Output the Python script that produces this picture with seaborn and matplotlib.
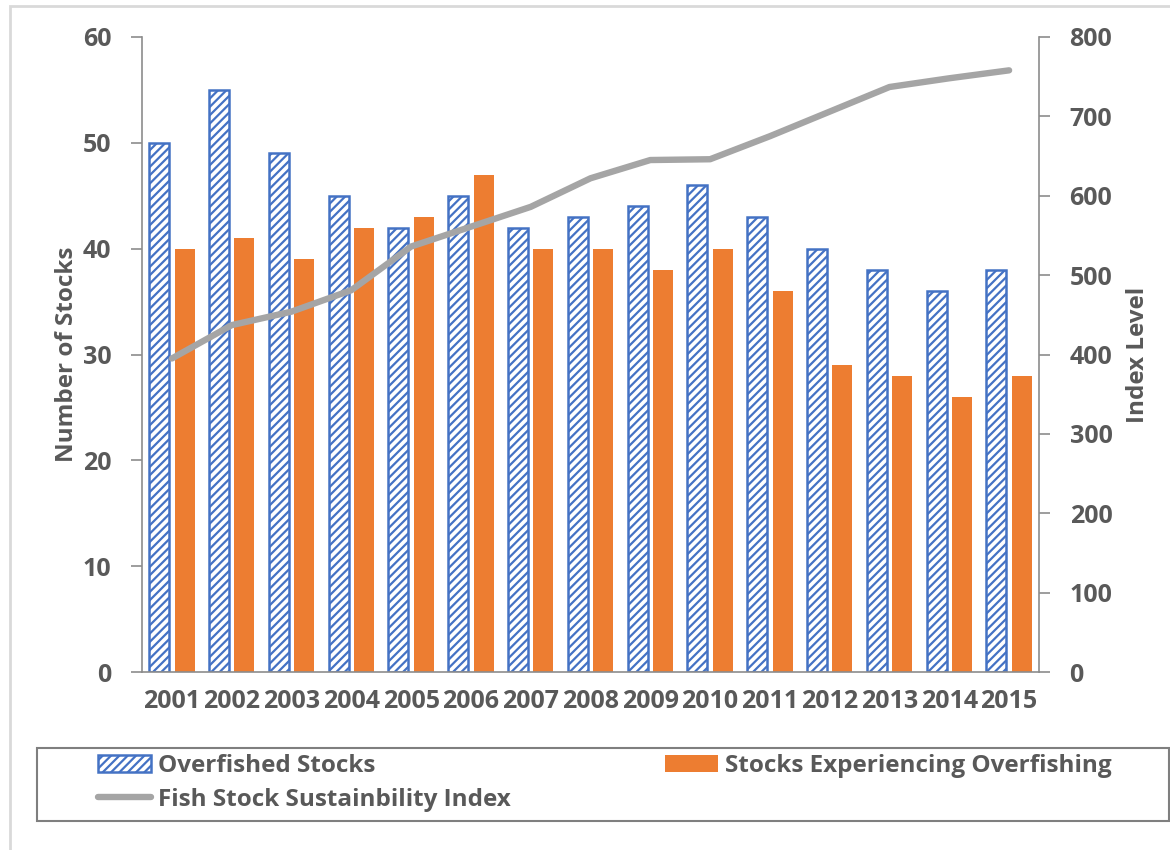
import matplotlib
matplotlib.use("Agg")
import matplotlib.pyplot as plt
import seaborn as sns
import numpy as np
import pandas as pd
from matplotlib.patches import Patch, Rectangle
from matplotlib.lines import Line2D

years = ["2001", "2002", "2003", "2004", "2005", "2006", "2007", "2008",
         "2009", "2010", "2011", "2012", "2013", "2014", "2015"]
overfished = [50, 55, 49, 45, 42, 45, 42, 43, 44, 46, 43, 40, 38, 36, 38]
overfishing = [40, 41, 39, 42, 43, 47, 40, 40, 38, 40, 36, 29, 28, 26, 28]
fssi = [395, 437, 454, 481, 536, 561, 586, 622, 645, 646, 675, 706, 737, 748, 758]

bar_names = ["Overfished Stocks", "Stocks Experiencing Overfishing"]
line_name = "Fish Stock Sustainbility Index"

BLUE = "#4472C4"
ORANGE = "#ED7D31"
GREY = "#A5A5A5"
TEXT = "#595959"
AXIS = "#8C8C8C"

sns.set_style("white")
plt.rcParams["font.family"] = ["Open Sans", "DejaVu Sans"]
plt.rcParams["font.weight"] = "bold"
plt.rcParams["hatch.linewidth"] = 1.6

df = pd.DataFrame({
    "Year": years * 2,
    "Stocks": overfished + overfishing,
    "Series": [bar_names[0]] * len(years) + [bar_names[1]] * len(years),
})

fig = plt.figure(figsize=(11.7, 8.5), dpi=100)
ax = fig.add_axes([142 / 1170, 1 - 672 / 850, (1039 - 142) / 1170, (672 - 37) / 850])

sns.barplot(data=df, x="Year", y="Stocks", hue="Series", hue_order=bar_names,
            palette=[BLUE, ORANGE], width=0.85, gap=0.22, legend=False,
            ax=ax, saturation=1)

for bar in ax.containers[0]:
    bar.set_facecolor("white")
    bar.set_edgecolor(BLUE)
    bar.set_hatch("////")
    bar.set_linewidth(1.8)
for bar in ax.containers[1]:
    bar.set_edgecolor("none")

ax.set_ylim(0, 60)
ax.set_yticks(range(0, 61, 10))
ax.set_xlim(-0.5, len(years) - 0.5)
ax.set_xlabel("")
ax.set_ylabel("Number of Stocks", fontsize=17.5, color=TEXT, fontweight="bold", labelpad=3)

ax2 = ax.twinx()
sns.lineplot(x=np.arange(len(years)), y=fssi, color=GREY, linewidth=4.6, ax=ax2,
             solid_capstyle="round")
ax2.set_ylim(0, 800)
ax2.set_yticks(range(0, 801, 100))
ax2.set_ylabel("Index Level", fontsize=17.5, color=TEXT, fontweight="bold", labelpad=10)

for a in (ax, ax2):
    a.spines["top"].set_visible(False)
    for s in ("left", "right", "bottom"):
        a.spines[s].set_color(AXIS)
        a.spines[s].set_linewidth(1.2)
    a.tick_params(axis="y", length=8, width=1.2, color=AXIS, labelsize=18,
                  labelcolor=TEXT, pad=14)
    a.tick_params(axis="x", length=0, labelsize=18, labelcolor=TEXT, pad=12)
    a.grid(False)
ax.spines["right"].set_visible(False)
ax2.spines["left"].set_visible(False)
ax2.spines["bottom"].set_visible(False)
for lbl in ax.get_xticklabels() + ax.get_yticklabels() + ax2.get_yticklabels():
    lbl.set_fontweight("bold")

h_over = Patch(facecolor="white", edgecolor=BLUE, hatch="////", linewidth=1.8,
               label=bar_names[0])
h_fish = Patch(facecolor=ORANGE, edgecolor="none", label=bar_names[1])
h_line = Line2D([], [], color=GREY, linewidth=4.6, label=line_name)

leg_kw = dict(frameon=False, fontsize=17.5, handlelength=2.2, handleheight=0.75,
              handletextpad=0.25, borderpad=0, borderaxespad=0, labelspacing=0.4,
              loc="upper left", labelcolor=TEXT)
leg1 = fig.legend(handles=[h_over, h_line], bbox_to_anchor=(98 / 1170, 1 - 754 / 850),
                  **leg_kw)
leg2 = fig.legend(handles=[h_fish], bbox_to_anchor=(665 / 1170, 1 - 754 / 850),
                  **leg_kw)
for t in leg1.get_texts() + leg2.get_texts():
    t.set_fontweight("bold")

# legend frame and outer chart border
fig.patches.append(Rectangle((37 / 1170, 1 - 821 / 850), (1169 - 37) / 1170, (821 - 748) / 850,
                             transform=fig.transFigure, fill=False,
                             edgecolor="#7F7F7F", linewidth=1.5))
fig.patches.append(Rectangle((10 / 1170, -0.05), 1.0, 1 - 6 / 850 + 0.05,
                             transform=fig.transFigure, fill=False,
                             edgecolor="#D9D9D9", linewidth=2))

fig.savefig("out.png", dpi=100, facecolor="white")
